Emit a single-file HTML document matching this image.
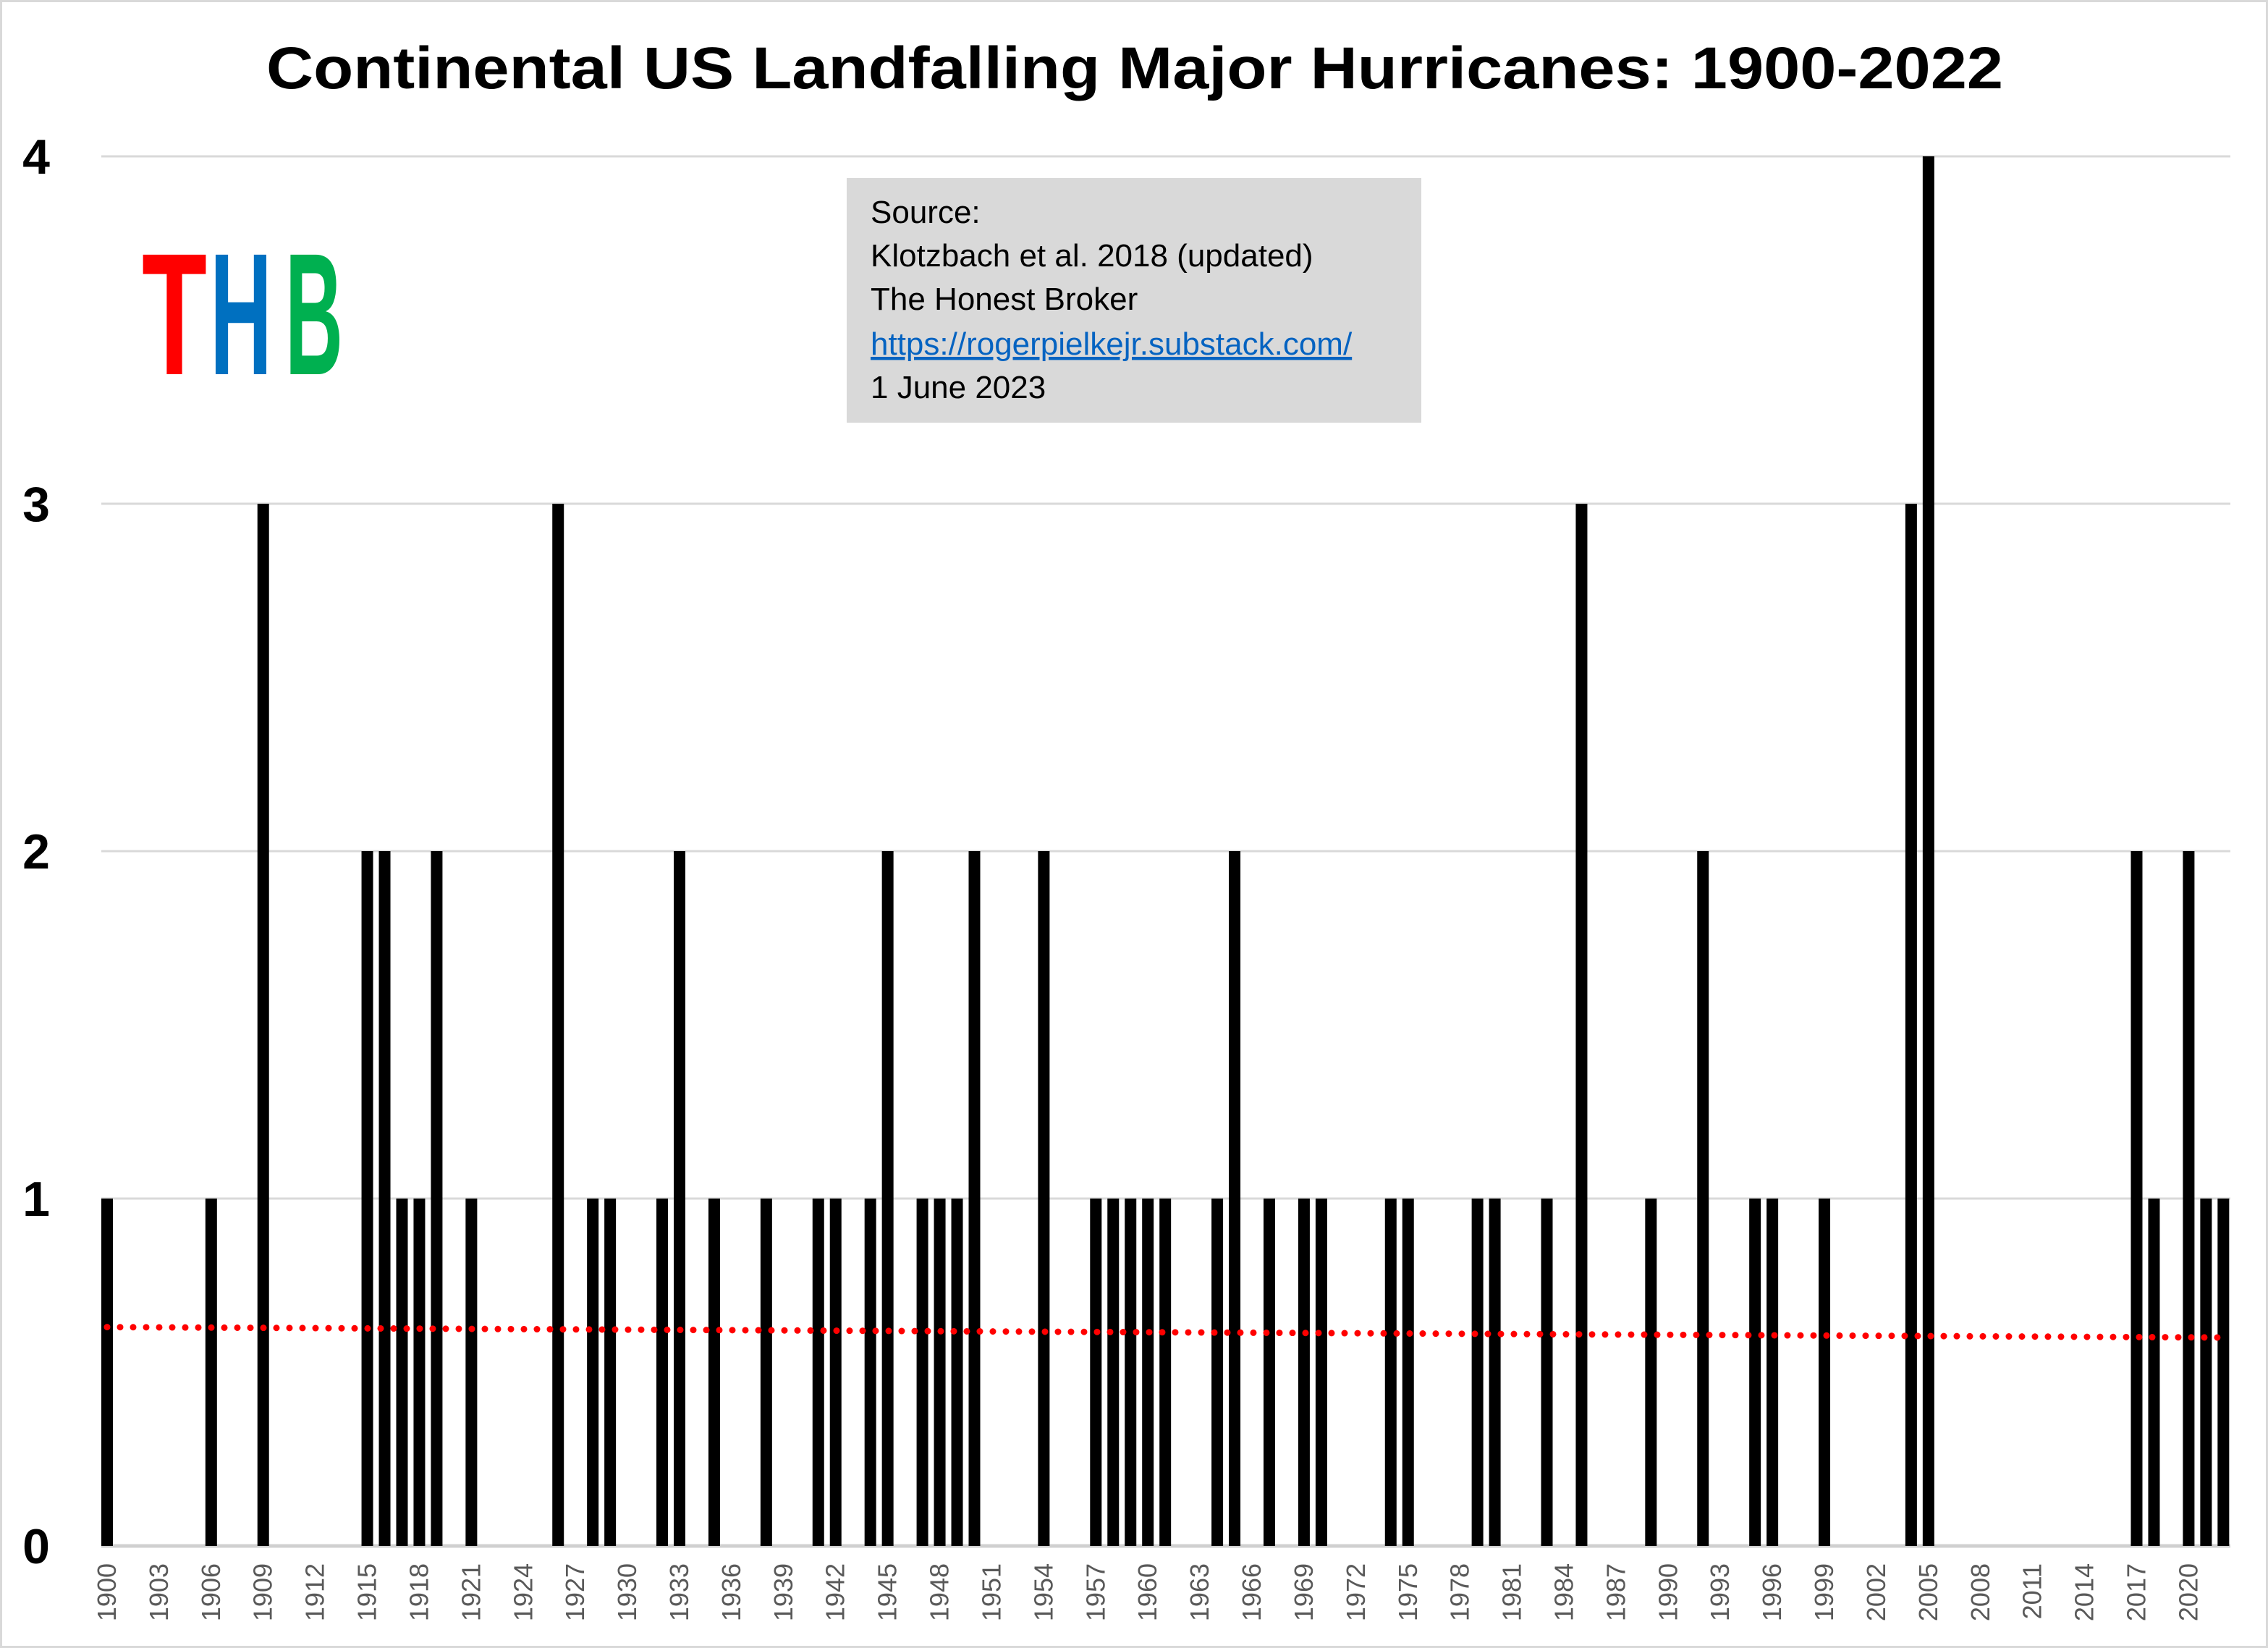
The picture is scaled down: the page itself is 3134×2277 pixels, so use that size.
<!DOCTYPE html>
<html><head><meta charset="utf-8"><style>
html,body{margin:0;padding:0;background:#fff;}
svg{display:block;font-family:"Liberation Sans",sans-serif;}
</style></head><body>
<svg id="chart" width="3134" height="2277" viewBox="0 0 3134 2277">
<rect x="1.5" y="1.5" width="3131" height="2274" fill="#fff" stroke="#d9d9d9" stroke-width="3"/>
<text x="1568" y="122" text-anchor="middle" font-size="82" font-weight="bold" textLength="2400" lengthAdjust="spacingAndGlyphs">Continental US Landfalling Major Hurricanes: 1900-2022</text>
<g id="grid"></g>
<g id="ylabels"></g>
<g id="bars"></g>
<g id="xlabels"></g>
<path id="trend" fill="none" stroke="#ff0000" stroke-width="9" stroke-linecap="round" stroke-dasharray="0 18"/>
<g>
<text x="196" y="517" font-size="240" font-weight="bold" fill="#ff0000" textLength="90" lengthAdjust="spacingAndGlyphs">T</text>
<text x="290" y="517" font-size="240" font-weight="bold" fill="#0070c0" textLength="86" lengthAdjust="spacingAndGlyphs">H</text>
<text x="394" y="517" font-size="240" font-weight="bold" fill="#00b050" textLength="80" lengthAdjust="spacingAndGlyphs">B</text>
</g>
<g>
<rect x="1170" y="246" width="794" height="338" fill="#d9d9d9"/>
<text x="1203" y="308" font-size="44">Source:</text>
<text x="1203" y="368" font-size="44">Klotzbach et al. 2018 (updated)</text>
<text x="1203" y="428" font-size="44">The Honest Broker</text>
<text x="1203" y="490" font-size="44" fill="#0563c1" text-decoration="underline">https://rogerpielkejr.substack.com/</text>
<text x="1203" y="550" font-size="44">1 June 2023</text>
</g>
</svg>
<script>
const years = [];
for (let y = 1900; y <= 2022; y++) years.push(y);
const hitYears = [1900,1906,1909,1915,1916,1917,1918,1919,1921,1926,1928,1929,1932,1933,1935,1938,1941,1942,1944,1945,1947,1948,1949,1950,1954,1957,1958,1959,1960,1961,1964,1965,1967,1969,1970,1974,1975,1979,1980,1983,1985,1989,1992,1995,1996,1999,2004,2005,2017,2018,2020,2021,2022];
const hitCounts = [1,1,3,2,2,1,1,2,1,3,1,1,1,2,1,1,1,1,1,2,1,1,1,2,2,1,1,1,1,1,1,2,1,1,1,1,1,1,1,1,3,1,2,1,1,1,3,4,2,1,2,1,1];
const yTicks = [0,1,2,3,4];
const trendStart = 0.63, trendEnd = 0.60;

const NS = "http://www.w3.org/2000/svg";
const x0 = 148, step = 23.97, y0 = 2136, unit = 480;
const xs = yr => x0 + (yr - 1900) * step;
const ys = v => y0 - v * unit;
function mk(tag, attrs, parent) {
  const e = document.createElementNS(NS, tag);
  for (const k in attrs) e.setAttribute(k, attrs[k]);
  parent.appendChild(e); return e;
}
const grid = document.getElementById('grid'), yl = document.getElementById('ylabels');
yTicks.forEach(t => {
  const l = mk('line', {x1:140, x2:3082, y1:ys(t), y2:ys(t), stroke: t===0?'#d0d0d0':'#d9d9d9', 'stroke-width': t===0?5:3}, grid);
  
  
  const tx = mk('text', {x:50, y:ys(t)+24, 'text-anchor':'middle', 'font-size':68, 'font-weight':'bold'}, yl);
  tx.textContent = t;
  
  
});
const bars = document.getElementById('bars');
hitYears.forEach((yr, i) => {
  const r = mk('rect', {x: xs(yr)-8, y: ys(hitCounts[i]), width: 16, height: hitCounts[i]*unit, fill:'#000'}, bars);
  
  
});
const xl = document.getElementById('xlabels');
years.filter(y => (y-1900) % 3 === 0).forEach(yr => {
  const t = mk('text', {x:0, y:0, 'text-anchor':'end', 'font-size':36, fill:'#595959', transform:`translate(${xs(yr)+12},2160) rotate(-90)`}, xl);
  t.textContent = yr;
  
  
});
document.getElementById('trend').setAttribute('d', `M${xs(1900)},${ys(trendStart)} L${xs(2022)},${ys(trendEnd)}`);
</script>
</body></html>
